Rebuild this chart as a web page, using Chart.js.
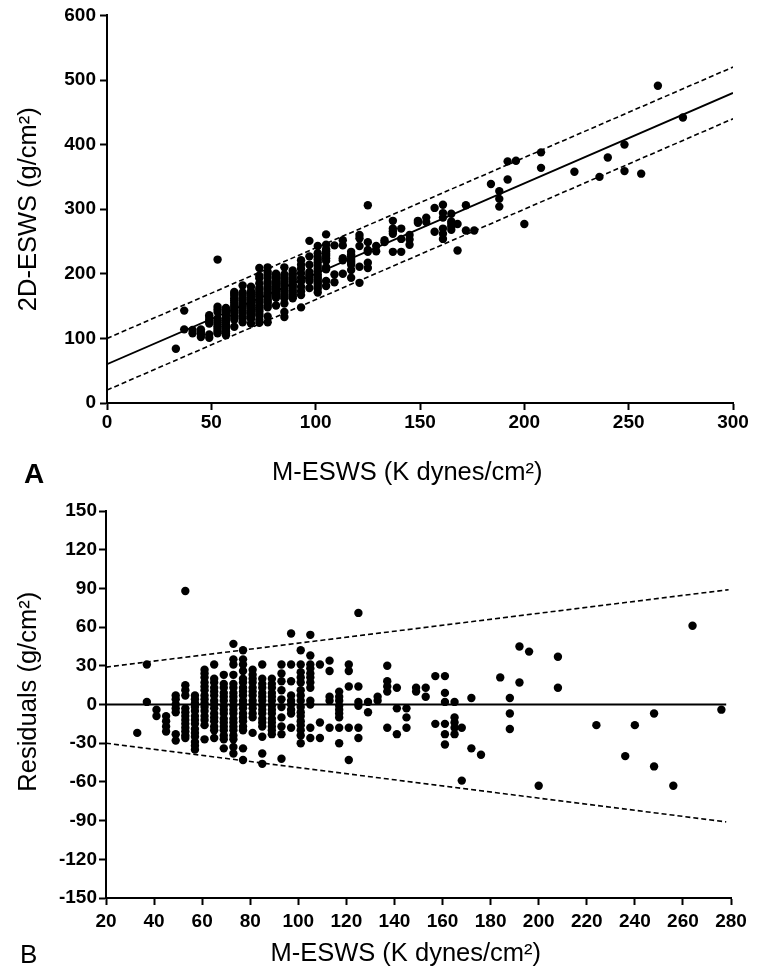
<!DOCTYPE html>
<html>
<head>
<meta charset="utf-8">
<script src="https://cdn.jsdelivr.net/npm/chart.js@4.4.1/dist/chart.umd.min.js"></script>
<style>
  html, body { margin: 0; padding: 0; background: #ffffff; }
  body { width: 759px; height: 973px; position: relative; overflow: hidden; font-family: "Liberation Sans", Arial, sans-serif; }
  canvas { position: absolute; left: 0; }
  #cA { top: 0; }
  #cB { top: 490px; }
  .panel { position: absolute; color: #000; line-height: 25px; }
  #lblA { left: 24px; top: 461px; font-size: 28px; font-weight: bold; }
  #lblB { left: 20px; top: 942px; font-size: 26px; }
</style>
</head>
<body>
<canvas id="cA" width="759" height="490"></canvas>
<canvas id="cB" width="759" height="483"></canvas>
<div class="panel" id="lblA">A</div>
<div class="panel" id="lblB">B</div>
<script>
// ---- Data ----
// M-ESWS values (K dynes/cm²), one entry per column of points
const mEswsCols = [33, 37, 41, 45, 49, 53, 57, 61, 65, 69, 73, 77, 81, 85, 89, 93, 97, 101, 105, 109,
  113, 117, 121, 125, 129, 133, 137, 141, 145, 149, 153, 157, 161, 165, 168, 172, 176, 184, 188, 192,
  196, 200, 208, 224, 236, 240, 248, 256, 264, 276];

// Panel A: 2D-ESWS (g/cm²) for the points of each column
const esws2DCols = [
  [84], [143, 114], [113, 108], [114, 110, 106, 102],
  [136, 133, 129, 126, 123, 106, 101],
  [222, 149, 145, 141, 131, 128, 125, 122, 119, 116, 113, 110, 108],
  [147, 144, 141, 138, 135, 131, 128, 125, 121, 118, 115, 111, 108, 105],
  [172, 169, 166, 162, 159, 156, 152, 149, 146, 143, 140, 136, 133, 129, 118],
  [182, 171, 168, 164, 161, 158, 154, 151, 148, 144, 141, 138, 134, 131, 125],
  [180, 173, 170, 166, 163, 160, 156, 153, 150, 146, 143, 140, 137, 133, 130, 123],
  [209, 197, 193, 185, 178, 175, 171, 168, 165, 161, 158, 155, 151, 148, 145, 142, 138, 135, 129, 124],
  [210, 203, 199, 194, 188, 185, 181, 178, 175, 171, 168, 165, 161, 158, 155, 151, 148, 134, 125],
  [200, 196, 193, 190, 186, 183, 180, 176, 173, 170, 166, 163, 151],
  [210, 199, 195, 192, 188, 185, 182, 178, 175, 172, 168, 165, 162, 154, 141, 133],
  [205, 201, 198, 194, 191, 188, 184, 181, 178, 174, 171, 168, 165, 162],
  [221, 214, 208, 201, 194, 188, 180, 173, 167, 148],
  [251, 227, 214, 203, 199, 196, 192, 189, 178],
  [243, 232, 226, 222, 218, 212, 208, 204, 199, 195, 192, 188, 185, 181, 177, 171],
  [261, 245, 238, 235, 231, 228, 224, 220, 210, 207, 189, 181],
  [244, 199, 187],
  [252, 244, 224, 221, 200],
  [234, 230, 227, 223, 220, 217, 214, 206, 194],
  [260, 255, 243, 211, 186],
  [306, 249, 237, 234, 217, 209],
  [243, 235], [252, 249],
  [282, 270, 266, 262, 234],
  [270, 254, 234], [260, 253, 245], [282, 279], [287, 280], [302, 265],
  [307, 294, 287, 270, 262, 254],
  [293, 281, 277, 273, 268],
  [277, 236], [306, 267], [267], [339], [328, 316, 304], [374, 346], [375], [277],
  [388, 364], [358], [350], [380], [400, 359], [355], [491], [442]
];

// Panel B: residuals (g/cm²) for the points of each column
const residualCols = [
  [-22], [31, 2], [-4, -9], [-9, -13, -17, -21],
  [7, 4, 0, -3, -6, -23, -28],
  [88, 15, 11, 7, -3, -6, -9, -12, -15, -18, -21, -24, -26],
  [7, 4, 1, -2, -5, -9, -12, -15, -19, -22, -25, -29, -32, -35],
  [27, 24, 21, 17, 14, 11, 7, 4, 1, -2, -5, -9, -12, -16, -27],
  [31, 20, 17, 13, 10, 7, 3, 0, -3, -7, -10, -13, -17, -20, -26],
  [23, 16, 13, 9, 6, 3, -1, -4, -7, -11, -14, -17, -20, -24, -27, -34],
  [47, 35, 31, 23, 16, 13, 9, 6, 3, -1, -4, -7, -11, -14, -17, -20, -24, -27, -33, -38],
  [42, 35, 31, 26, 20, 17, 13, 10, 7, 3, 0, -3, -7, -10, -13, -17, -20, -34, -43],
  [27, 23, 20, 17, 13, 10, 7, 3, 0, -3, -7, -10, -22],
  [31, 20, 16, 13, 9, 6, 3, -1, -4, -7, -11, -14, -17, -25, -38, -46],
  [20, 16, 13, 9, 6, 3, -1, -4, -7, -11, -14, -17, -20, -23],
  [31, 24, 18, 11, 4, -2, -10, -17, -23, -42],
  [55, 31, 18, 7, 3, 0, -4, -7, -18],
  [42, 31, 25, 21, 17, 11, 7, 3, -2, -6, -9, -13, -16, -20, -24, -30],
  [54, 38, 31, 28, 24, 21, 17, 13, 3, 0, -18, -26],
  [31, -14, -26],
  [34, 26, 6, 3, -18],
  [10, 6, 3, -1, -4, -7, -10, -18, -30],
  [31, 26, 14, -18, -43],
  [71, 14, 2, -1, -18, -26],
  [2, -6], [6, 3],
  [30, 18, 14, 10, -18],
  [13, -3, -23], [-3, -10, -18], [13, 10], [13, 6], [22, -15],
  [22, 9, 2, -15, -23, -31],
  [2, -10, -14, -18, -23],
  [-18, -59], [5, -34], [-39], [21], [5, -7, -19], [45, 17], [41], [-63],
  [37, 13], [-16], [-40], [-16], [-7, -48], [-63], [61], [-4]
];

// Regression line and limits, panel A (x, y end points)
const fitLineAX = [0, 300], fitLineAY = [60, 480];
const upperLimitAY = [100, 520];
const lowerLimitAY = [20, 440];
// Zero line and limits, panel B
const zeroLineBX = [20, 278], zeroLineBY = [0, 0];
const upperLimitBX = [20, 279], upperLimitBY = [29, 89];
const lowerLimitBX = [20, 278], lowerLimitBY = [-30, -91];

// Tick labels
const ticksAX = [0, 50, 100, 150, 200, 250, 300];
const ticksAY = [0, 100, 200, 300, 400, 500, 600];
const ticksBX = [20, 40, 60, 80, 100, 120, 140, 160, 180, 200, 220, 240, 260, 280];
const ticksBY = [-150, -120, -90, -60, -30, 0, 30, 60, 90, 120, 150];

const xTitle = 'M-ESWS (K dynes/cm²)';
const yTitleA = '2D-ESWS (g/cm²)';
const yTitleB = 'Residuals (g/cm²)';

// ---- Build ----
function pointsFrom(cols, xs) {
  const pts = [];
  cols.forEach((col, i) => col.forEach(v => pts.push({ x: xs[i], y: v })));
  return pts;
}
function linePts(xs, ys) { return xs.map((x, i) => ({ x: x, y: ys[i] })); }

const FONT = '"Liberation Sans", Arial, Helvetica, sans-serif';

function lineDs(data, dashed) {
  return {
    type: 'scatter', data: data, showLine: true, pointRadius: 0, borderColor: '#000',
    borderWidth: dashed ? 1.6 : 1.8, borderDash: dashed ? [5, 3] : [], fill: false, order: 2
  };
}

function makeChart(id, cfg) {
  const axisTick = (arr) => (s) => { s.ticks = arr.map(v => ({ value: v })); };
  return new Chart(document.getElementById(id), {
    type: 'scatter',
    data: {
      datasets: [
        {
          data: cfg.points, pointRadius: 4.2, pointBackgroundColor: '#000', pointBorderWidth: 0,
          pointBorderColor: '#000', order: 1
        },
        ...cfg.lines
      ]
    },
    options: {
      responsive: false, animation: false, devicePixelRatio: 1,
      layout: { padding: { top: cfg.padTop, right: cfg.padRight, bottom: 0, left: 0 } },
      plugins: { legend: { display: false }, tooltip: { enabled: false } },
      scales: {
        x: {
          type: 'linear', min: cfg.xMin, max: cfg.xMax,
          afterBuildTicks: axisTick(cfg.xTicks),
          afterFit: (s) => { s.height = cfg.xAxisH; },
          border: { display: true, color: '#000', width: 2 },
          grid: { display: true, drawOnChartArea: false, drawTicks: true, tickLength: 7, tickWidth: 2, tickColor: '#000', color: '#000' },
          ticks: { color: '#000', padding: cfg.xTickPad, maxRotation: 0, autoSkip: false,
                   font: { family: FONT, size: 19, weight: 'bold' } },
          title: { display: true, text: xTitle + '\u2003', color: '#000',
                   font: { family: FONT, size: 25.5 }, padding: { top: 0, bottom: cfg.xTitlePad } }
        },
        y: {
          type: 'linear', min: cfg.yMin, max: cfg.yMax,
          afterBuildTicks: axisTick(cfg.yTicks),
          afterFit: (s) => { s.width = cfg.yAxisW; },
          border: { display: true, color: '#000', width: 2 },
          grid: { display: true, drawOnChartArea: false, drawTicks: true, tickLength: 7, tickWidth: 2, tickColor: '#000', color: '#000' },
          ticks: { color: '#000', padding: cfg.yTickPad, autoSkip: false,
                   font: { family: FONT, size: 19, weight: 'bold' } },
          title: { display: true, text: cfg.yTitle, color: '#000',
                   font: { family: FONT, size: 25.5 }, padding: { top: 14, bottom: 0 } }
        }
      }
    }
  });
}

makeChart('cA', {
  points: pointsFrom(esws2DCols, mEswsCols),
  lines: [
    lineDs(linePts(fitLineAX, fitLineAY), false),
    lineDs(linePts(fitLineAX, upperLimitAY), true),
    lineDs(linePts(fitLineAX, lowerLimitAY), true)
  ],
  xMin: 0, xMax: 300, yMin: 0, yMax: 600,
  xTicks: ticksAX, yTicks: ticksAY,
  padTop: 15, padRight: 26, xAxisH: 87, yAxisW: 107,
  xTickPad: 1, yTickPad: 4, xTitlePad: 2, yTitle: yTitleA
});

makeChart('cB', {
  points: pointsFrom(residualCols, mEswsCols),
  lines: [
    lineDs(linePts(zeroLineBX, zeroLineBY), false),
    lineDs(linePts(upperLimitBX, upperLimitBY), true),
    lineDs(linePts(lowerLimitBX, lowerLimitBY), true)
  ],
  xMin: 20, xMax: 280, yMin: -150, yMax: 150,
  xTicks: ticksBX, yTicks: ticksBY,
  padTop: 21, padRight: 28, xAxisH: 75, yAxisW: 106,
  xTickPad: 5, yTickPad: 2, xTitlePad: 4, yTitle: '\u2003' + yTitleB
});
</script>
</body>
</html>
